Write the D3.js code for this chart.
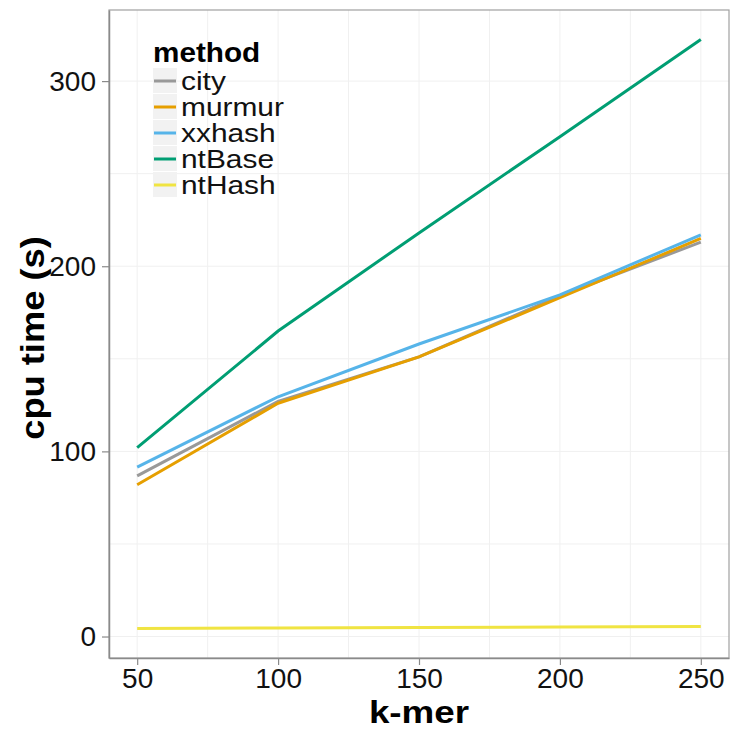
<!DOCTYPE html>
<html>
<head>
<meta charset="utf-8">
<script src="https://cdn.jsdelivr.net/npm/d3@7"></script>
<style>
  body { margin: 0; background: #fff; }
  text { font-family: "Liberation Sans", Arial, sans-serif; }
</style>
</head>
<body>
<div id="chart"></div>
<script>
// data
const kmers = [50, 100, 150, 200, 250];
const methods = ['city', 'murmur', 'xxhash', 'ntBase', 'ntHash'];
const city = [86.8, 127, 151, 184, 213];
const murmur = [82, 126, 151, 183, 215];
const xxhash = [91.5, 129.5, 158, 184.5, 217];
const ntBase = [102, 165, 218, 270, 322.5];
const ntHash = [4.3, 4.6, 4.9, 5.1, 5.4];
const xTicks = [50, 100, 150, 200, 250];
const yTicks = [0, 100, 200, 300];

const seriesValues = { city, murmur, xxhash, ntBase, ntHash };
const colors = {
    city: '#999999', murmur: '#E69F00', xxhash: '#56B4E9',
    ntBase: '#009E73', ntHash: '#F0E442'
};

// measures
const width = 730, height = 730;
const panel = { left: 109, top: 10, right: 729, bottom: 658 };

const svg = d3.select('#chart').append('svg')
    .attr('width', width)
    .attr('height', height);

const x = d3.scaleLinear().domain([40, 260]).range([panel.left, panel.right]);
const y = d3.scaleLinear().domain([-11.6, 338.4]).range([panel.bottom, panel.top]);

// grid
const grid = svg.append('g');
const minorY = [50, 150, 250];
const minorX = [75, 125, 175, 225];
grid.selectAll('.gy').data(yTicks.concat(minorY)).join('line')
    .attr('x1', panel.left).attr('x2', panel.right)
    .attr('y1', d => y(d)).attr('y2', d => y(d))
    .attr('stroke', '#f0f0f0').attr('stroke-width', 1);
grid.selectAll('.gx').data(xTicks.concat(minorX)).join('line')
    .attr('y1', panel.top).attr('y2', panel.bottom)
    .attr('x1', d => x(d)).attr('x2', d => x(d))
    .attr('stroke', '#f0f0f0').attr('stroke-width', 1);

// lines
const line = d3.line()
    .x((d, i) => x(kmers[i]))
    .y(d => y(d));
methods.forEach(m => {
    svg.append('path')
        .datum(seriesValues[m])
        .attr('d', line)
        .attr('fill', 'none')
        .attr('stroke', colors[m])
        .attr('stroke-width', 3);
});

// panel border
svg.append('rect')
    .attr('x', panel.left).attr('y', panel.top)
    .attr('width', panel.right - panel.left).attr('height', panel.bottom - panel.top)
    .attr('fill', 'none').attr('stroke', '#a0a0a0').attr('stroke-width', 1.2);

// axes
const xAxis = svg.append('g')
    .attr('transform', `translate(0,${panel.bottom})`)
    .call(d3.axisBottom(x).tickValues(xTicks).tickSize(7).tickSizeOuter(0).tickPadding(3));
const yAxis = svg.append('g')
    .attr('transform', `translate(${panel.left},0)`)
    .call(d3.axisLeft(y).tickValues(yTicks).tickSize(7).tickSizeOuter(0).tickPadding(6));
[xAxis, yAxis].forEach(a => {
    a.select('.domain').attr('stroke', '#8a8a8a').attr('stroke-width', 1.5);
    a.selectAll('.tick line').attr('stroke', '#8a8a8a').attr('stroke-width', 1.2);
    a.selectAll('.tick text')
        .attr('fill', '#111')
        .style('font-size', '28px')
        .style('font-family', '"Liberation Sans", Arial, sans-serif');
});

// axis titles (glyphs a bit wider than tall, as in the original)
svg.append('text')
    .attr('transform', `translate(${(panel.left + panel.right) / 2},723) scale(1.15,1)`)
    .attr('text-anchor', 'middle')
    .style('font-size', '32px')
    .style('font-weight', 'bold')
    .text('k-mer');
svg.append('text')
    .attr('transform', `translate(44,${(panel.top + panel.bottom) / 2 + 4}) rotate(-90) scale(1.1,1)`)
    .attr('text-anchor', 'middle')
    .style('font-size', '33px')
    .style('font-weight', 'bold')
    .text('cpu time (s)');

// legend
const legend = svg.append('g').attr('transform', 'translate(153,0)');
legend.append('text')
    .attr('transform', 'translate(0,62) scale(1.1,1)')
    .style('font-size', '27px')
    .style('font-weight', 'bold')
    .text('method');
const keyH = 26;
methods.forEach((m, i) => {
    const top = 68 + i * keyH;
    legend.append('rect')
        .attr('x', 0).attr('y', top)
        .attr('width', 24).attr('height', keyH - 1)
        .attr('fill', '#f2f2f2');
    legend.append('line')
        .attr('x1', 1).attr('x2', 23)
        .attr('y1', top + keyH / 2).attr('y2', top + keyH / 2)
        .attr('stroke', colors[m]).attr('stroke-width', 3);
    legend.append('text')
        .attr('transform', `translate(28,${top + keyH / 2 + 9}) scale(1.15,1)`)
        .style('font-size', '26px')
        .attr('fill', '#111')
        .text(m);
});
</script>
</body>
</html>
